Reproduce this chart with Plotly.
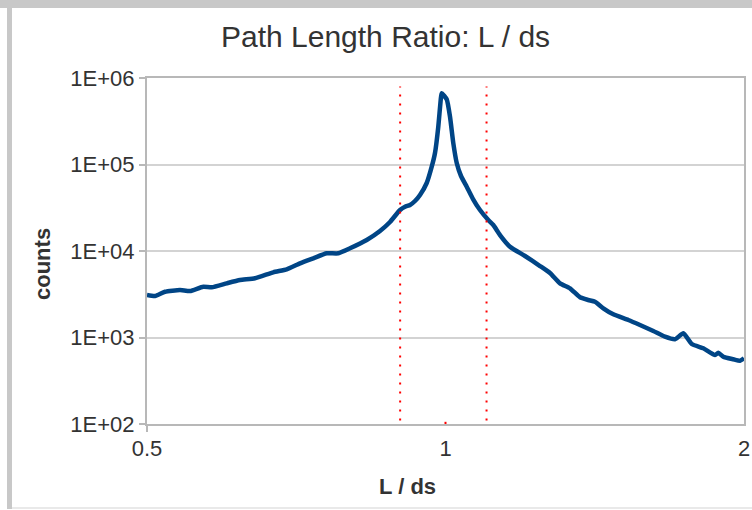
import plotly.graph_objects as go

# Histogram of the path length ratio L / ds (log-log)
ratio = [0.5000, 0.5094, 0.5213, 0.5398, 0.5525, 0.5698, 0.5811, 0.6017, 0.6205, 0.6425,
         0.6704, 0.6916, 0.7133, 0.7357, 0.7589, 0.7796, 0.8011, 0.8328, 0.8589, 0.8791,
         0.8998, 0.9103, 0.9209, 0.9316, 0.9425, 0.9573, 0.9685, 0.9759, 0.9834, 0.9889,
         0.9912, 1.0028, 1.0105, 1.0183, 1.0264, 1.0367, 1.0505, 1.0660, 1.0834, 1.1045,
         1.1174, 1.1349, 1.1616, 1.2028, 1.2454, 1.2746, 1.3046, 1.3352, 1.3666, 1.3932,
         1.4150, 1.4426, 1.4765, 1.5288, 1.5709, 1.6202, 1.6648, 1.7039, 1.7371, 1.7713,
         1.8196, 1.8698, 1.8841, 1.9061, 1.9509, 1.9815, 2.0000]
counts = [3100, 3017, 3383, 3541, 3448, 3865, 3804, 4231, 4620, 4834,
          5672, 6143, 7205, 8233, 9406, 9406, 10743, 13403, 17027, 21640,
          29780, 32520, 34030, 37840, 44400, 61110, 94300, 135800, 273500, 556800,
          665600, 567300, 356900, 175900, 104100, 73620, 55370, 39910, 29780, 22820,
          19980, 15300, 11210, 8751, 6706, 5568, 4231, 3704, 2914, 2714,
          2593, 2175, 1854, 1593, 1394, 1189, 1021, 953, 1118, 841,
          750, 627, 667, 600, 560, 539, 575]

# Selection cuts on the ratio
cut_lower = 0.9
cut_upper = 1.1
cut_center = 1.0
cut_span = [1.1e2, 8.0e5]
center_span = [1.0e2, 1.06e2]

x_tick_vals = [0.5, 1, 2]
x_tick_text = ["0.5", "1", "2"]
y_tick_vals = [1e2, 1e3, 1e4, 1e5, 1e6]
y_tick_text = ["1E+02", "1E+03", "1E+04", "1E+05", "1E+06"]

W, H = 752, 510
L, R, T, B = 147, 8, 78, 86
PW, PH = W - L - R, H - T - B


def px(xp):
    return (xp - L) / PW


def py(yp):
    return (H - B - yp) / PH


FONT = "Liberation Sans, Arial, sans-serif"
TXT = "#333333"
GRID = "#d3d3d3"
AXIS = "#b8b8b8"

fig = go.Figure()

fig.add_trace(go.Scatter(
    x=ratio, y=counts, mode="lines",
    line=dict(color="#004586", width=4.5, shape="spline", smoothing=0.5),
    hoverinfo="x+y", showlegend=False,
))

for xc in (cut_lower, cut_upper):
    fig.add_trace(go.Scatter(
        x=[xc, xc], y=cut_span, mode="lines",
        line=dict(color="#ff0000", width=2, dash="2px,7px"),
        hoverinfo="skip", showlegend=False,
    ))

fig.add_trace(go.Scatter(
    x=[cut_center, cut_center], y=center_span, mode="lines",
    line=dict(color="#ff0000", width=2),
    hoverinfo="skip", showlegend=False,
))

fig.update_xaxes(
    type="log", range=[-0.30103, 0.30103],
    tickvals=x_tick_vals, ticktext=x_tick_text,
    showgrid=False, zeroline=False,
    showline=True, linecolor=AXIS, linewidth=2, mirror=True,
    ticks="", ticklabelstandoff=4,
    tickfont=dict(family=FONT, size=22, color=TXT),
    automargin=False,
)
fig.update_yaxes(
    type="log", range=[2, 6],
    tickvals=y_tick_vals, ticktext=y_tick_text,
    showgrid=True, gridcolor=GRID, gridwidth=2, zeroline=False,
    showline=True, linecolor=AXIS, linewidth=2, mirror=True,
    ticks="outside", ticklen=6, tickcolor=AXIS, tickwidth=2,
    ticklabelstandoff=0,
    tickfont=dict(family=FONT, size=22, color=TXT),
    automargin=False,
)

shapes = [
    # short tick below the axis at the left end
    dict(type="line", xref="paper", yref="paper", x0=0, x1=0, y0=0, y1=py(H - B + 8),
         line=dict(color=AXIS, width=2)),
    # outer frame
    dict(type="rect", xref="paper", yref="paper", x0=px(0), x1=px(W), y0=py(0), y1=py(8),
         fillcolor="#c8c8c8", line=dict(width=0)),
    dict(type="rect", xref="paper", yref="paper", x0=px(7), x1=px(12), y0=py(8), y1=py(509),
         fillcolor="#c8c8c8", line=dict(width=0)),
    dict(type="line", xref="paper", yref="paper", x0=px(12), x1=px(W), y0=py(508), y1=py(508),
         line=dict(color="#e2e2e2", width=1.5)),
]

annotations = [
    dict(text="Path Length Ratio: L / ds", xref="paper", yref="paper",
         x=px(385), y=py(37), xanchor="center", yanchor="middle", showarrow=False,
         font=dict(family=FONT, size=30, color=TXT)),
    dict(text="counts", xref="paper", yref="paper", textangle=-90,
         x=px(42), y=py(264), xanchor="center", yanchor="middle", showarrow=False,
         font=dict(family=FONT, size=22, color=TXT, weight="bold")),
    dict(text="L / ds", xref="paper", yref="paper",
         x=px(407), y=py(486), xanchor="center", yanchor="middle", showarrow=False,
         font=dict(family=FONT, size=22, color=TXT, weight="bold")),
]

fig.update_layout(
    width=W, height=H,
    margin=dict(l=L, r=R, t=T, b=B, pad=0),
    paper_bgcolor="white", plot_bgcolor="white",
    shapes=shapes, annotations=annotations,
    showlegend=False,
)

fig.write_html("out.html")
